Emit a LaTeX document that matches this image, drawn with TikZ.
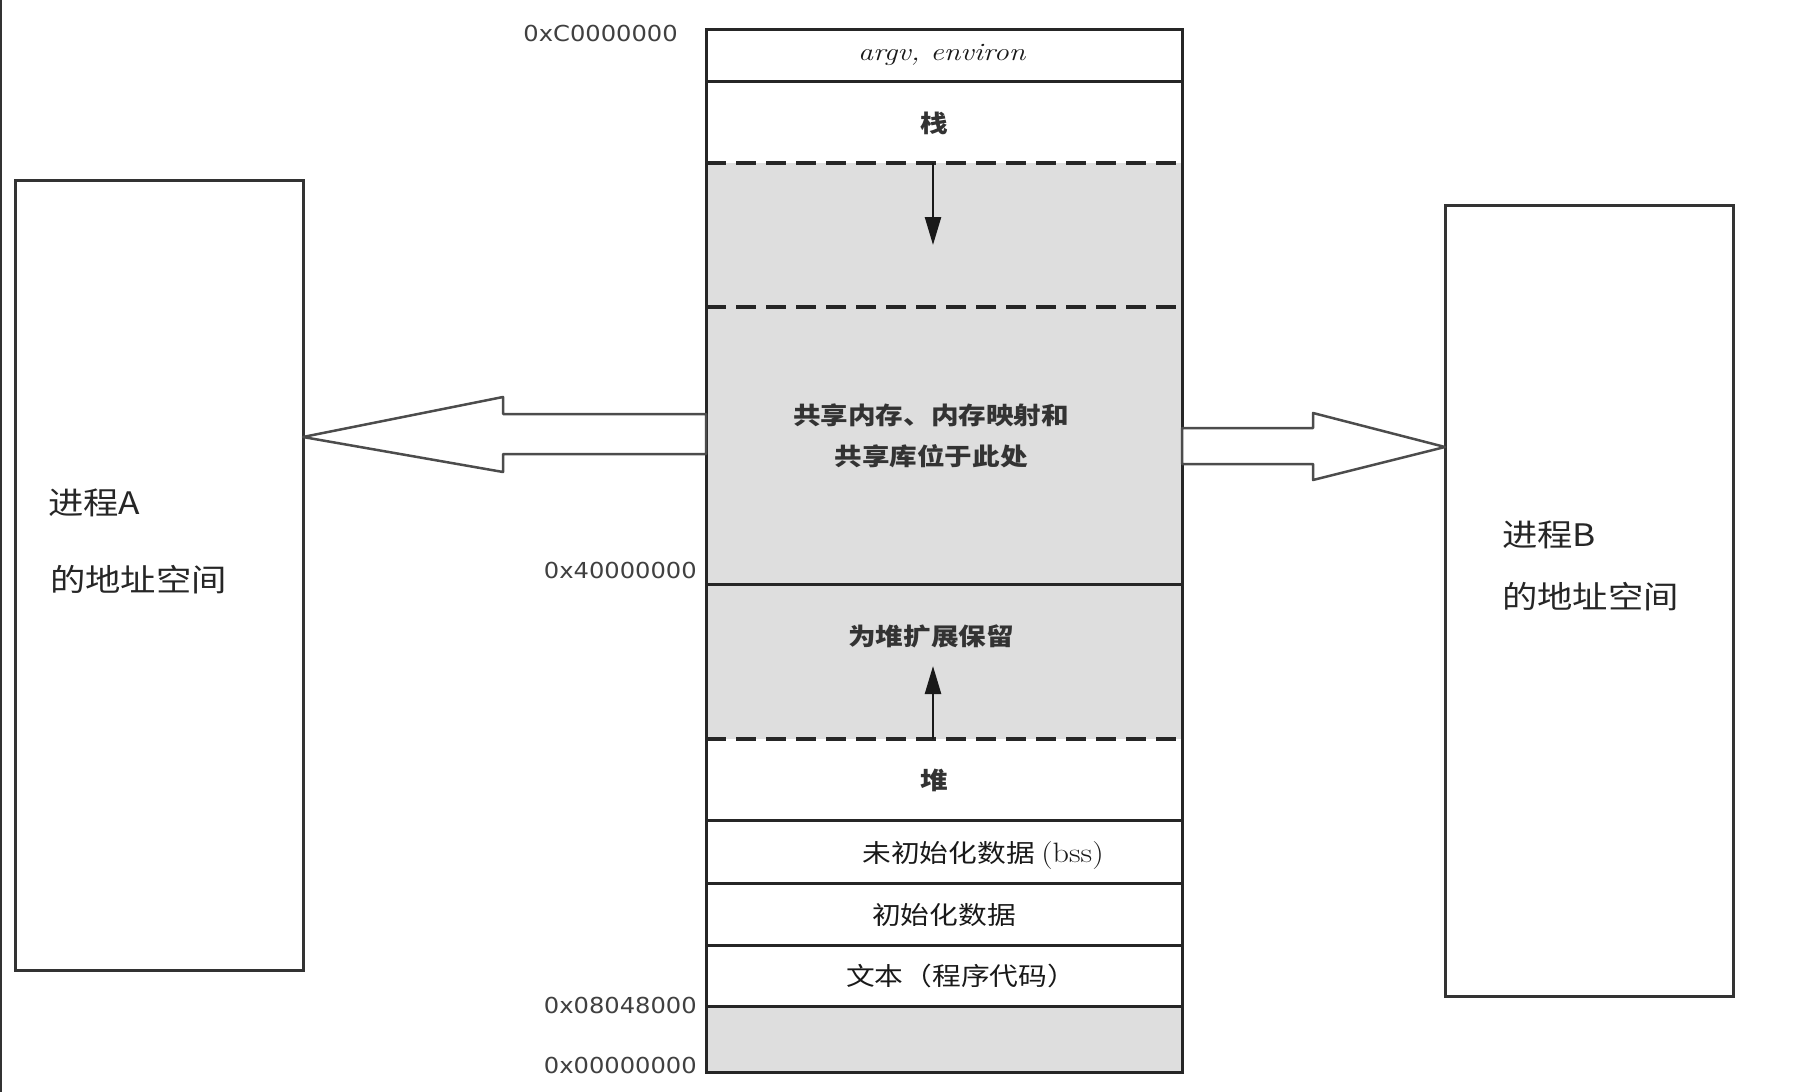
\documentclass[tikz,border=0pt]{standalone}
\usepackage{fontspec}
\newfontfamily\cjk{Noto Sans CJK SC}
\newfontfamily\hexfont{DejaVu Sans}
\usetikzlibrary{arrows.meta}

\tikzset{
  box/.style={draw=black!80, line width=3pt, inner sep=0pt, outer sep=0pt},
  seg/.style={font=\cjk\bfseries\fontsize{24}{41}\selectfont, text=black!80, xscale=1.15, transform shape, inner sep=0pt},
  segthin/.style={seg, font=\cjk\mdseries\fontsize{25}{41}\selectfont, text=black!90},
  addr/.style={font=\hexfont\fontsize{22}{24}\selectfont, text=black!75, xscale=1.1, transform shape, anchor=east, inner sep=0pt},
  proc/.style={font=\cjk\fontsize{31}{36}\selectfont, text=black!85, xscale=1.14, transform shape, anchor=west, inner sep=0pt},
  gapline/.style={dash pattern=on 20pt off 10pt, line width=3.5pt, black!85},
  segline/.style={line width=3pt, black!85},
  bigarrow/.style={draw=black!70, line width=2.5pt, fill=white, line join=round},
  growarrow/.style={line width=2.5pt, black!90, -{Triangle[length=28pt,width=16pt]}},
}

\begin{document}
\begin{tikzpicture}[x=1pt, y=-1pt]
		\useasboundingbox (0,0) rectangle (1805,1092);
		\draw[black!80, line width=2pt] (1,0) -- (1,1092);
		
		% the two process boxes
		\node[box, minimum width=288, minimum height=790]  (procA) at (159,575)   {};
		\node[box, minimum width=288, minimum height=791]  (procB) at (1589,600.5) {};
		\node[proc] (nameA) at (48,503)  {进程A};
		\node[proc] (addrA) at (50,580)  {的地址空间};
		\node[proc] (nameB) at (1502,535) {进程B};
		\node[proc] (addrB) at (1502,597) {的地址空间};
		
		% memory layout in the middle
		\path node[inner sep=0pt, outer sep=0pt, minimum width=476, minimum height=1043] (mem) at (944,550.5) {};
		
		% shaded parts
		\fill[black!13] (mem.west |- 0,163)  rectangle (mem.east |- 0,739);
		\fill[black!13] (mem.west |- 0,1006) rectangle (mem.east |- 0,1072);
		
		% solid borders between segments
		\draw[segline] (mem.west |- 0,81)   -- (mem.east |- 0,81);
		\draw[segline] (mem.west |- 0,584)  -- (mem.east |- 0,584);
		\draw[segline] (mem.west |- 0,820)  -- (mem.east |- 0,820);
		\draw[segline] (mem.west |- 0,883)  -- (mem.east |- 0,883);
		\draw[segline] (mem.west |- 0,945)  -- (mem.east |- 0,945);
		\draw[segline] (mem.west |- 0,1006) -- (mem.east |- 0,1006);
		
		% dashed borders (stack and heap may grow)
		\draw[gapline] (mem.west |- 0,163) -- (mem.east |- 0,163);
		\draw[gapline] (mem.west |- 0,307) -- (mem.east |- 0,307);
		\draw[gapline] (mem.west |- 0,739) -- (mem.east |- 0,739);
		
		\draw[segline] (mem.north west) rectangle (mem.south east);
		
		% growth arrows
		\coordinate (stacktop) at (933,163);
		\coordinate (stackend) at (933,245);
		\coordinate (heaptop)  at (933,739);
		\coordinate (heapend)  at (933,666);
		\draw[growarrow] (stacktop) -- (stackend);
		\draw[growarrow] (heaptop) -- (heapend);
		
		% segment labels
		\node[font=\fontsize{25}{28}\selectfont, text=black!90, xscale=1.2, transform shape] (argv) at (942,55) {\textit{argv, environ}};
		\node[seg] (stack)  at (934,123) {栈};
		\node[seg, align=center] (shared) at (931,436) {共享内存、内存映射和\\共享库位于此处};
		\node[seg] (resv)   at (931,636) {为堆扩展保留};
		\node[seg] (heap)   at (934,780) {堆};
		\node[segthin] (bss)  at (983,855) {未初始化数据 {\rmfamily\fontsize{28}{30}\selectfont(bss)}};
		\node[segthin] (data) at (944,915) {初始化数据};
		\node[segthin] (text) at (961,976) {文本（程序代码）};
		
		% addresses
		\node[addr] (top)   at (678,33)   {0xC0000000};
		\node[addr] (mid)   at (697,570)  {0x40000000};
		\node[addr] (start) at (697,1005) {0x08048000};
		\node[addr] (zero)  at (697,1065) {0x00000000};
		
		% big arrows to the two processes
		\draw[bigarrow] (mem.west |- 0,414) -- (503,414) -- (503,397)
		-- (procA.east |- 0,437) -- (503,472) -- (503,454)
		-- (mem.west |- 0,454) -- cycle;
		\draw[bigarrow] (mem.east |- 0,428) -- (1313,428) -- (1313,413)
		-- (procB.west |- 0,447) -- (1313,480) -- (1313,464)
		-- (mem.east |- 0,464) -- cycle;
		
\end{tikzpicture}
\end{document}
